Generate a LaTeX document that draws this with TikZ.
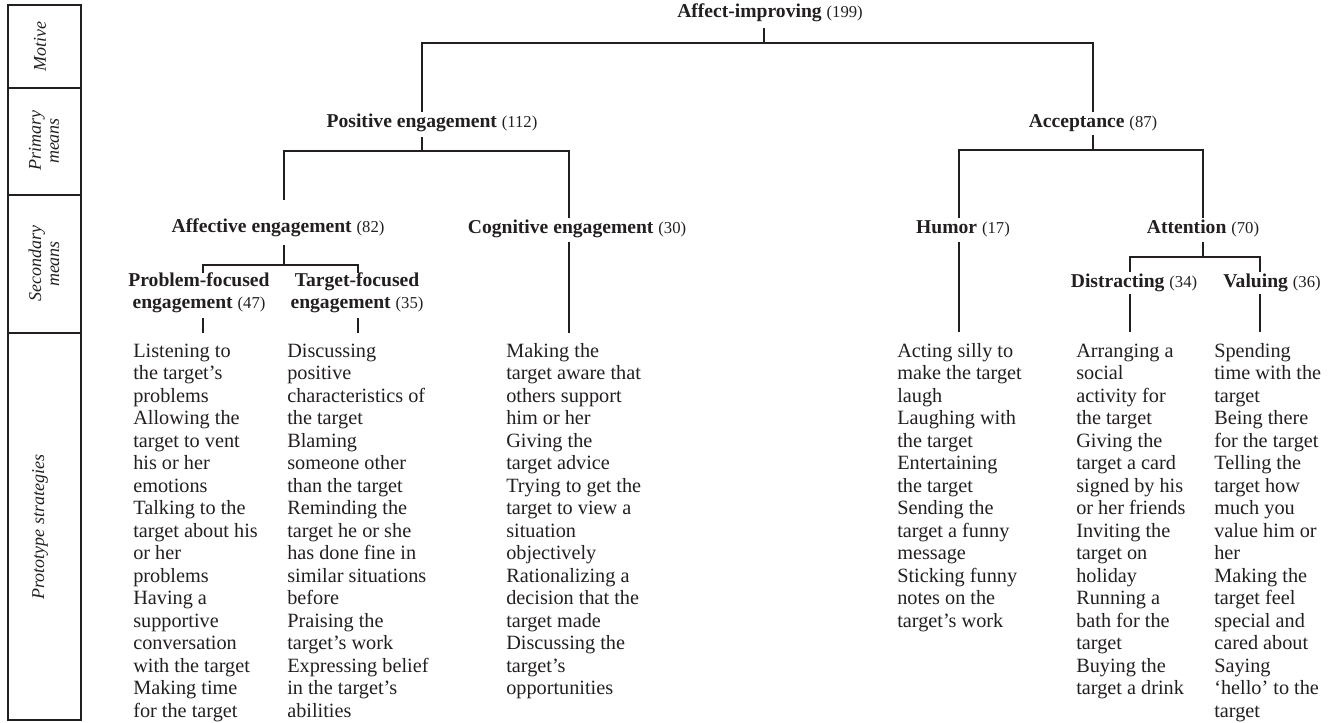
\documentclass[tikz,border=0pt]{standalone}
\usepackage{fontspec}
\setmainfont{Liberation Serif}
\definecolor{ink}{HTML}{231F20}
\newcommand{\cnt}[1]{{\fontsize{12.5}{14}\selectfont\mdseries(#1)}}
\begin{document}
\begin{tikzpicture}[x=0.75pt,y=-0.75pt,
  lbl/.style={font=\fontsize{14.7}{17.2}\selectfont\bfseries, inner sep=0, anchor=base, text=ink, align=center},
  strat/.style={font=\fontsize{15.2}{16.875}\selectfont, align=left, anchor=base west, inner sep=0, text=ink},
  conn/.style={line width=1.5pt, draw=ink},
  frame/.style={line width=1.2pt, draw=ink},
  side/.style={font=\fontsize{13.5}{13.5}\selectfont\itshape, rotate=90, align=center, inner sep=0, text=ink}]
\useasboundingbox (0,0) rectangle (1336,723);

% side panel
\draw[frame] (8,5) rectangle (81,720);
\draw[frame] (8,88) -- (81,88);
\draw[frame] (8,195) -- (81,195);
\draw[frame] (8,333) -- (81,333);
\node[side] (mot) at (40,47) {Motive};
\node[side] (pri) at (44,141) {Primary\\means};
\node[side] (sec) at (44,264) {Secondary\\means};
\node[side] (pro) at (40,527) {Prototype strategies};

% labels (anchor = baseline of last line)
\node[lbl] (ai) at (770,18) {Affect-improving \cnt{199}};
\node[lbl] (pe) at (432,128) {Positive engagement \cnt{112}};
\node[lbl] (ac) at (1093,128) {Acceptance \cnt{87}};
\node[lbl] (ae) at (278,233) {Affective engagement \cnt{82}};
\node[lbl] (ce) at (577,234) {Cognitive engagement \cnt{30}};
\node[lbl] (hu) at (963,234) {Humor \cnt{17}};
\node[lbl] (at) at (1203,234) {Attention \cnt{70}};
\node[lbl] (pf) at (199,309) {Problem-focused\\engagement \cnt{47}};
\node[lbl] (tf) at (357,309) {Target-focused\\engagement \cnt{35}};
\node[lbl] (di) at (1134,288) {Distracting \cnt{34}};
\node[lbl] (va) at (1272,288) {Valuing \cnt{36}};

% strategies (anchor = baseline of last line; first baseline at 357, step 22.5)
\node[strat] (spf) at (133,717) {Listening to\\the target's\\problems\\Allowing the\\target to vent\\his or her\\emotions\\Talking to the\\target about his\\or her\\problems\\Having a\\supportive\\conversation\\with the target\\Making time\\for the target};
\node[strat] (stf) at (287,717) {Discussing\\positive\\characteristics of\\the target\\Blaming\\someone other\\than the target\\Reminding the\\target he or she\\has done fine in\\similar situations\\before\\Praising the\\target's work\\Expressing belief\\in the target's\\abilities};
\node[strat] (sce) at (506,694.5) {Making the\\target aware that\\others support\\him or her\\Giving the\\target advice\\Trying to get the\\target to view a\\situation\\objectively\\Rationalizing a\\decision that the\\target made\\Discussing the\\target's\\opportunities};
\node[strat] (shu) at (897,627) {Acting silly to\\make the target\\laugh\\Laughing with\\the target\\Entertaining\\the target\\Sending the\\target a funny\\message\\Sticking funny\\notes on the\\target's work};
\node[strat] (sdi) at (1076,694.5) {Arranging a\\social\\activity for\\the target\\Giving the\\target a card\\signed by his\\or her friends\\Inviting the\\target on\\holiday\\Running a\\bath for the\\target\\Buying the\\target a drink};
\node[strat] (sva) at (1214,717) {Spending\\time with the\\target\\Being there\\for the target\\Telling the\\target how\\much you\\value him or\\her\\Making the\\target feel\\special and\\cared about\\Saying\\`hello' to the\\target};

% connector points
\coordinate (ai-s) at (764,28);  \coordinate (ai-f) at (764,43);
\coordinate (pe-n) at (422,112); \coordinate (ac-n) at (1093,112);
\coordinate (pe-s) at (422,137); \coordinate (pe-f) at (422,151);
\coordinate (ae-n) at (284,200); \coordinate (ce-n) at (569,218);
\coordinate (ac-s) at (1093,135); \coordinate (ac-f) at (1093,150);
\coordinate (hu-n) at (959,218); \coordinate (at-n) at (1203,218);
\coordinate (ae-s) at (284,245); \coordinate (ae-f) at (284,265);
\coordinate (pf-n) at (203,273); \coordinate (tf-n) at (358,273);
\coordinate (at-s) at (1203,242); \coordinate (at-f) at (1203,257);
\coordinate (di-n) at (1130,272); \coordinate (va-n) at (1260,272);
\coordinate (pf-s) at (203,318); \coordinate (spf-n) at (203,333);
\coordinate (tf-s) at (358,318); \coordinate (stf-n) at (358,333);
\coordinate (ce-s) at (569,242); \coordinate (sce-n) at (569,333);
\coordinate (hu-s) at (959,242); \coordinate (shu-n) at (959,332);
\coordinate (di-s) at (1130,294); \coordinate (sdi-n) at (1130,332);
\coordinate (va-s) at (1260,294); \coordinate (sva-n) at (1260,332);

% connectors
\draw[conn] (ai-s) -- (ai-f);
\draw[conn] (pe-n) |- (ai-f) -| (ac-n);
\draw[conn] (pe-s) -- (pe-f);
\draw[conn] (ae-n) |- (pe-f) -| (ce-n);
\draw[conn] (ac-s) -- (ac-f);
\draw[conn] (hu-n) |- (ac-f) -| (at-n);
\draw[conn] (ae-s) -- (ae-f);
\draw[conn] (pf-n) |- (ae-f) -| (tf-n);
\draw[conn] (at-s) -- (at-f);
\draw[conn] (di-n) |- (at-f) -| (va-n);
\draw[conn] (pf-s) -- (spf-n);
\draw[conn] (tf-s) -- (stf-n);
\draw[conn] (ce-s) -- (sce-n);
\draw[conn] (hu-s) -- (shu-n);
\draw[conn] (di-s) -- (sdi-n);
\draw[conn] (va-s) -- (sva-n);
\end{tikzpicture}
\end{document}
